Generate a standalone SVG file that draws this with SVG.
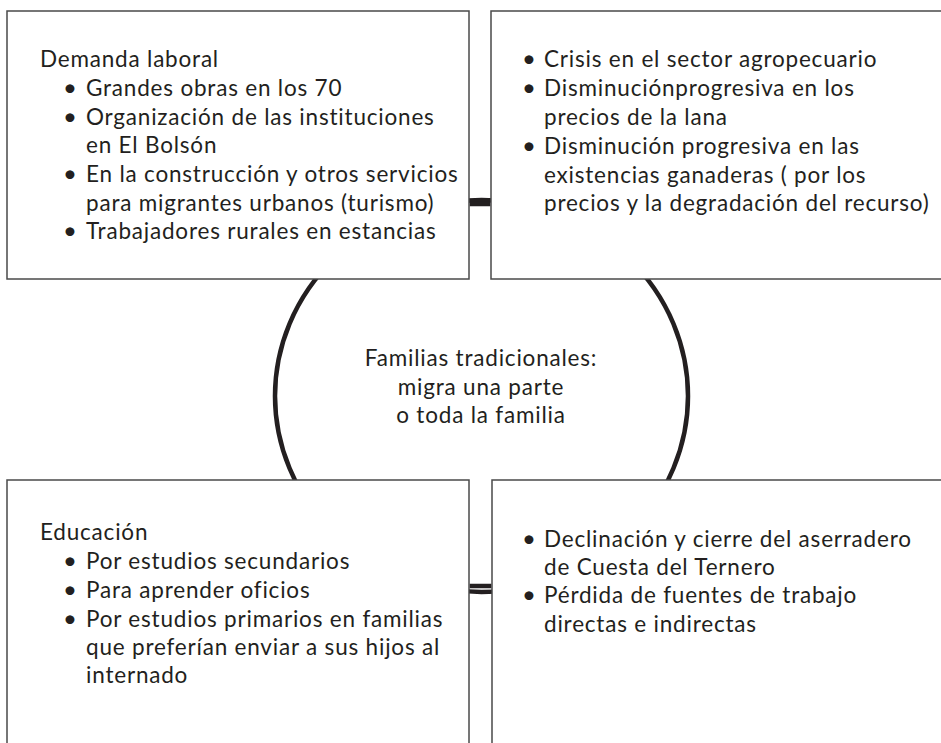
<svg xmlns="http://www.w3.org/2000/svg" width="941" height="743" viewBox="0 0 941 743">
<style>
  .box { fill: #ffffff; stroke: #4a4a4a; stroke-width: 1.5; }
  .t { font-family: Lato, "Noto Sans", sans-serif; font-size: 22.5px; letter-spacing: 0.8px; fill: #231f20; }
  .b { font-family: Lato, "Noto Sans", sans-serif; font-size: 24px; fill: #231f20; }
  .c { text-anchor: middle; }
  .ring { stroke: #231f20; stroke-width: 4.5; fill: #ffffff; }
  .conn { fill: #231f20; stroke: none; }
</style>
<rect width="941" height="743" fill="#ffffff"/>
<g id="center">
  <ellipse class="ring" cx="481.5" cy="396" rx="206.5" ry="196"/>
  <text class="t c" x="481" y="366">Familias tradicionales:</text>
  <text class="t c" x="481" y="395">migra una parte</text>
  <text class="t c" x="481" y="423">o toda la familia</text>
</g>
<g id="box-demanda">
  <rect class="box" x="7" y="11" width="462" height="268"/>
  <text class="t" x="40" y="67">Demanda laboral</text>
  <text class="b" x="63" y="96">•</text><text class="t" x="86" y="96">Grandes obras en los 70</text>
  <text class="b" x="63" y="125">•</text><text class="t" x="86" y="125">Organización de las instituciones</text>
  <text class="t" x="86" y="153">en El Bolsón</text>
  <text class="b" x="63" y="182">•</text><text class="t" x="86" y="182">En la construcción y otros servicios</text>
  <text class="t" x="86" y="211">para migrantes urbanos (turismo)</text>
  <text class="b" x="63" y="239">•</text><text class="t" x="86" y="239">Trabajadores rurales en estancias</text>
</g>
<g id="box-crisis">
  <rect class="box" x="491" y="11" width="460" height="268"/>
  <text class="b" x="522" y="67">•</text><text class="t" x="544" y="67">Crisis en el sector agropecuario</text>
  <text class="b" x="522" y="96">•</text><text class="t" x="544" y="96">Disminuciónprogresiva en los</text>
  <text class="t" x="544" y="125">precios de la lana</text>
  <text class="b" x="522" y="154">•</text><text class="t" x="544" y="154">Disminución progresiva en las</text>
  <text class="t" x="544" y="183">existencias ganaderas ( por los</text>
  <text class="t" x="544" y="211">precios y la degradación del recurso)</text>
</g>
<g id="box-educacion">
  <rect class="box" x="7" y="480" width="462" height="280"/>
  <text class="t" x="40" y="540">Educación</text>
  <text class="b" x="63" y="569">•</text><text class="t" x="86" y="569">Por estudios secundarios</text>
  <text class="b" x="63" y="598">•</text><text class="t" x="86" y="598">Para aprender oficios</text>
  <text class="b" x="63" y="627">•</text><text class="t" x="86" y="627">Por estudios primarios en familias</text>
  <text class="t" x="86" y="655">que preferían enviar a sus hijos al</text>
  <text class="t" x="86" y="683">internado</text>
</g>
<g id="box-aserradero">
  <rect class="box" x="492" y="480" width="460" height="280"/>
  <text class="b" x="522" y="547">•</text><text class="t" x="544" y="547">Declinación y cierre del aserradero</text>
  <text class="t" x="544" y="575">de Cuesta del Ternero</text>
  <text class="b" x="522" y="603">•</text><text class="t" x="544" y="603">Pérdida de fuentes de trabajo</text>
  <text class="t" x="544" y="632">directas e indirectas</text>
</g>
<g id="connectors">
  <rect class="conn" x="469.75" y="201.75" width="20.5" height="4.5"/>
  <rect class="conn" x="469.75" y="583.75" width="21.5" height="4.5"/>
</g>
</svg>
